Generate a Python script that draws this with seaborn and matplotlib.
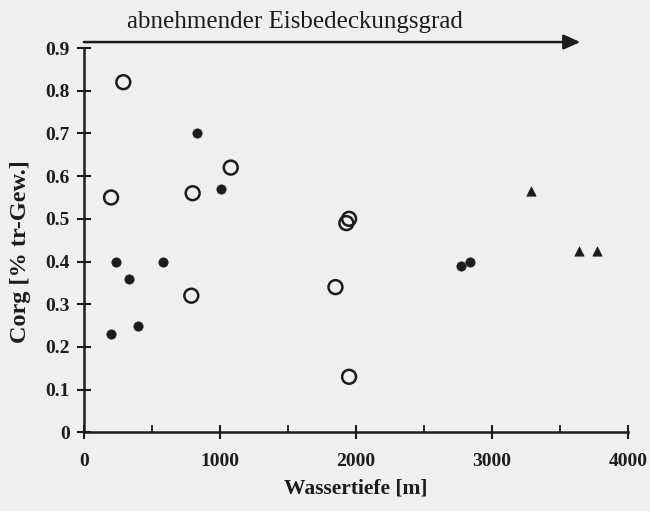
import matplotlib
matplotlib.use("Agg")
import matplotlib.pyplot as plt
import seaborn as sns
import pandas as pd

# --- data ---
open_depth = [290, 200, 800, 1080, 790, 1850, 1950, 1930, 1950]
open_corg = [0.82, 0.55, 0.56, 0.62, 0.32, 0.34, 0.50, 0.49, 0.13]

filled_depth = [830, 1010, 240, 580, 330, 400, 200, 2770, 2840]
filled_corg = [0.70, 0.57, 0.40, 0.40, 0.36, 0.25, 0.23, 0.39, 0.40]

tri_depth = [3290, 3640, 3775]
tri_corg = [0.565, 0.425, 0.425]

x_ticks = [0, 1000, 2000, 3000, 4000]
y_ticks = [0, 0.1, 0.2, 0.3, 0.4, 0.5, 0.6, 0.7, 0.8, 0.9]
y_ticklabels = ["0", "0.1", "0.2", "0.3", "0.4", "0.5", "0.6", "0.7", "0.8", "0.9"]
title_text = "abnehmender Eisbedeckungsgrad"
x_label = "Wassertiefe [m]"
y_label = "Corg [% tr-Gew.]"

sns.set_style("white")
plt.rcParams["font.family"] = ["Liberation Serif", "DejaVu Serif"]

ink = "#1c1c1c"
bg = "#efefef"

fig = plt.figure(figsize=(6.5, 5.11), dpi=100, facecolor=bg)
ax = fig.add_axes([0.129, 0.154, 0.837, 0.752])
ax.set_facecolor(bg)

df_open = pd.DataFrame({"depth": open_depth, "corg": open_corg})
df_fill = pd.DataFrame({"depth": filled_depth, "corg": filled_corg})
df_tri = pd.DataFrame({"depth": tri_depth, "corg": tri_corg})

sns.scatterplot(data=df_open, x="depth", y="corg", ax=ax, marker="o", s=100,
                facecolor="none", edgecolor=ink, linewidth=1.8, clip_on=False)
sns.scatterplot(data=df_fill, x="depth", y="corg", ax=ax, marker="o", s=45,
                color=ink, edgecolor=ink, linewidth=0.5, clip_on=False)
sns.scatterplot(data=df_tri, x="depth", y="corg", ax=ax, marker="^", s=45,
                color=ink, edgecolor=ink, linewidth=0.5, clip_on=False)

ax.set_xlim(0, 4000)
ax.set_ylim(0, 0.9)
ax.set_xticks(x_ticks)
ax.set_xticklabels([str(t) for t in x_ticks], fontweight="bold", fontsize=14)
ax.set_xticks([500, 1500, 2500, 3500], minor=True)
ax.set_yticks(y_ticks)
ax.set_yticklabels(y_ticklabels, fontweight="bold", fontsize=14)

ax.tick_params(axis="both", which="major", direction="inout", length=10, width=1.5,
               colors=ink, bottom=True, left=True)
ax.tick_params(axis="x", which="minor", direction="in", length=5, width=1.3,
               colors=ink, bottom=True)
ax.tick_params(axis="y", which="major", pad=5)
ax.tick_params(axis="x", which="major", pad=10)

for side in ["top", "right"]:
    ax.spines[side].set_visible(False)
for side in ["left", "bottom"]:
    ax.spines[side].set_color(ink)
    ax.spines[side].set_linewidth(1.8)

ax.set_xlabel(x_label, fontweight="bold", fontsize=15.5, color=ink, labelpad=6)
ax.set_ylabel(y_label, fontweight="bold", fontsize=17.5, color=ink)
ax.yaxis.set_label_coords(-0.097, 0.47)

# arrow of decreasing ice cover along the top
ax.annotate("", xy=(3650, 0.914), xytext=(0, 0.914), xycoords="data",
            arrowprops=dict(arrowstyle="-|>,head_length=1.0,head_width=0.45",
                            color=ink, lw=1.8, shrinkA=0, shrinkB=0),
            annotation_clip=False)
ax.text(1550, 0.946, title_text, ha="center", va="baseline", fontsize=18, color=ink)

fig.savefig("out.png", dpi=100, facecolor=bg)
